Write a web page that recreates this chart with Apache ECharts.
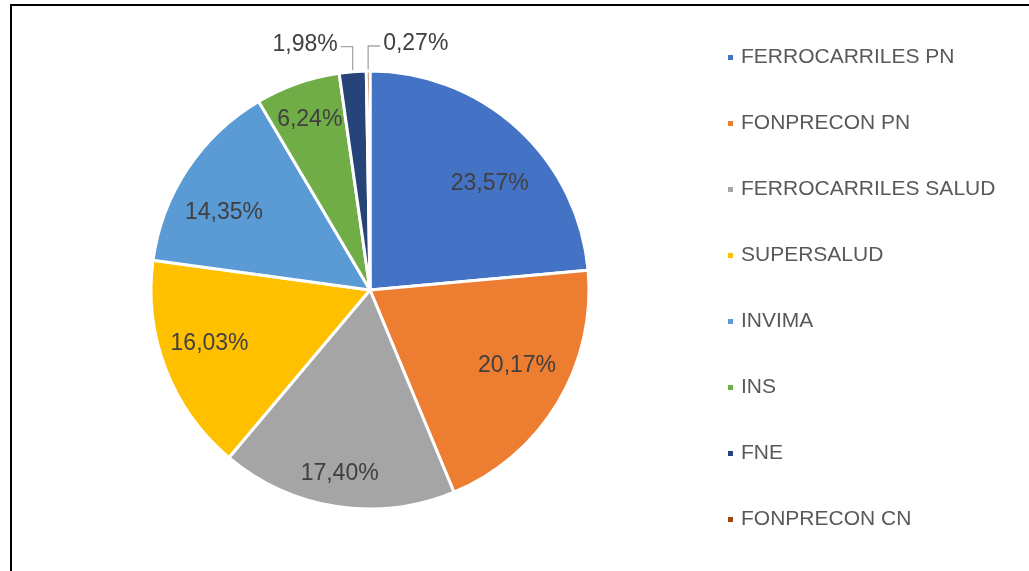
<!DOCTYPE html>
<html>
<head>
<meta charset="utf-8">
<script src="https://cdn.jsdelivr.net/npm/echarts@6/dist/echarts.min.js"></script>
<style>
  html, body { margin: 0; padding: 0; background: #fff; overflow: hidden; }
  #frame { position: absolute; left: 10px; top: 4px; width: 1200px; height: 800px;
           border-left: 2px solid #000; border-top: 2px solid #000; }
  #chart { position: absolute; left: 0; top: 0; width: 1029px; height: 571px; }
</style>
</head>
<body>
<div id="frame"></div>
<div id="chart"></div>
<script>
// values (percent shares)
const categories = ['FERROCARRILES PN', 'FONPRECON PN', 'FERROCARRILES SALUD', 'SUPERSALUD',
    'INVIMA', 'INS', 'FNE', 'FONPRECON CN'];
const shares = [23.57, 20.17, 17.40, 16.03, 14.35, 6.24, 1.98, 0.27];
const colors = ['#4472C4', '#ED7D31', '#A5A5A5', '#FFC000', '#5B9BD5', '#70AD47', '#264478', '#9E480E'];
// small slices get an outside label with a leader line
const outsideLabels = ['FNE', 'FONPRECON CN'];
// excel's "best fit" label placement, as small nudges from the library's spot
const labelNudge = [[3, 21], [-1, -14], [-4, 13], [1, -9], [-2, 18], [-3, -7], [0, 0], [0, 0]];

const font = '"Liberation Sans", Arial, sans-serif';
const fmt = v => v.toFixed(2).replace('.', ',') + '%';

let chart = echarts.init(document.getElementById('chart'));

let sliceData = categories.map((name, i) => ({
    name: name,
    value: shares[i],
    itemStyle: { color: colors[i] },
    label: { show: outsideLabels.indexOf(name) >= 0 }
}));
// transparent copy, only to place the inside labels further out
let labelData = categories.map((name, i) => ({
    name: name,
    value: shares[i],
    label: { show: outsideLabels.indexOf(name) < 0 }
}));

let option = {
    animation: false,
    legend: {
        orient: 'vertical',
        left: 726,
        top: 47,
        padding: 0,
        itemWidth: 7,
        itemHeight: 7,
        itemGap: 45,
        icon: 'rect',
        selectedMode: false,
        data: categories.map((name, i) => ({ name: name, itemStyle: { color: colors[i] } })),
        textStyle: { fontFamily: font, fontSize: 21, color: '#595959', padding: [0, 0, 0, 2] }
    },
    series: [
        {
            type: 'pie',
            center: [370, 290],
            radius: 219,
            startAngle: 90,
            clockwise: true,
            silent: true,
            data: sliceData,
            itemStyle: { borderColor: '#fff', borderWidth: 3 },
            label: {
                position: 'outside',
                formatter: p => fmt(p.value),
                fontFamily: font,
                fontSize: 23,
                color: '#404040'
            },
            labelLine: {
                show: true,
                lineStyle: { color: '#A6A6A6', width: 1.3 }
            },
            labelLayout: function (params) {
                let pts = params.labelLinePoints;
                if (!pts) return {};
                let p0 = pts[0];
                let up = p0[1] - 25;
                let left = params.dataIndex === 6;
                let p2 = [p0[0] + (left ? -12 : 12), up];
                return {
                    x: p2[0] + (left ? -3 : 3),
                    y: up - 2,
                    align: left ? 'right' : 'left',
                    verticalAlign: 'middle',
                    labelLinePoints: [p0, [p0[0], up], p2]
                };
            }
        },
        {
            type: 'pie',
            center: [370, 290],
            radius: 340,
            startAngle: 90,
            clockwise: true,
            silent: true,
            data: labelData,
            itemStyle: { color: 'rgba(0,0,0,0)' },
            label: {
                position: 'inside',
                formatter: p => fmt(p.value),
                fontFamily: font,
                fontSize: 23,
                color: '#404040'
            },
            labelLine: { show: false },
            labelLayout: function (params) {
                let n = labelNudge[params.dataIndex] || [0, 0];
                return { dx: n[0], dy: n[1] };
            }
        }
    ]
};
chart.setOption(option);
</script>
</body>
</html>
